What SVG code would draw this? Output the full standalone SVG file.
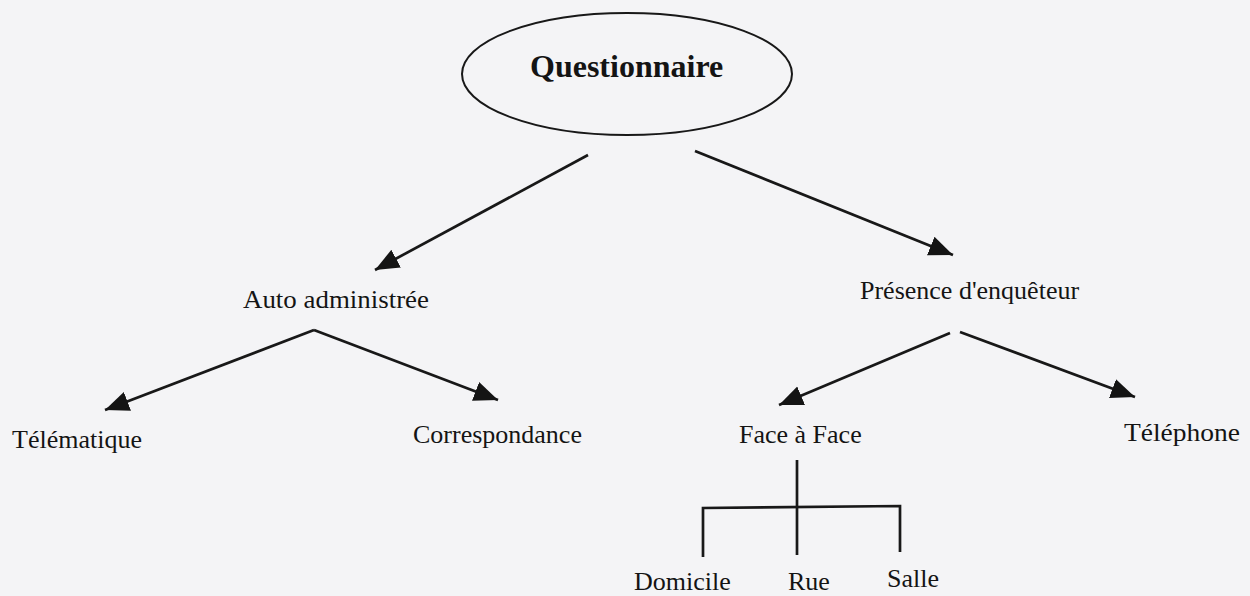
<svg xmlns="http://www.w3.org/2000/svg" width="1250" height="596" viewBox="0 0 1250 596">
<style>
.lbl{font-family:"Liberation Serif","Times New Roman",serif;font-size:26px;fill:#141414}
.ttl{font-family:"Liberation Serif","Times New Roman",serif;font-size:32px;font-weight:bold;fill:#141414}
.ln{stroke:#181818;stroke-width:2.7;fill:none}
</style>
<defs>
<marker id="ah" markerUnits="userSpaceOnUse" markerWidth="26" markerHeight="22" refX="24" refY="10" orient="auto">
<path d="M0,0 L24,10 L0,20 z" fill="#141414"/>
</marker>
</defs>
<rect width="1250" height="596" fill="#f4f4f6"/>
<g id="questionnaire">
<ellipse cx="627" cy="74" rx="165" ry="61" fill="none" stroke="#181818" stroke-width="2"/>
<text class="ttl" x="530" y="77">Questionnaire</text>
</g>
<g id="auto">
<text class="lbl" x="243" y="308" textLength="186" lengthAdjust="spacingAndGlyphs">Auto administrée</text>
</g>
<g id="presence">
<text class="lbl" x="860" y="299">Présence d'enquêteur</text>
</g>
<g id="telematique">
<text class="lbl" x="12" y="448">Télématique</text>
</g>
<g id="correspondance">
<text class="lbl" x="413" y="443">Correspondance</text>
</g>
<g id="face">
<text class="lbl" x="739" y="443">Face à  Face</text>
</g>
<g id="telephone">
<text class="lbl" x="1124" y="441" textLength="116" lengthAdjust="spacingAndGlyphs">Téléphone</text>
</g>
<g id="domicile">
<text class="lbl" x="634" y="590">Domicile</text>
</g>
<g id="rue">
<text class="lbl" x="788" y="590">Rue</text>
</g>
<g id="salle">
<text class="lbl" x="887" y="587">Salle</text>
</g>
<g id="connectors">
<line class="ln" x1="588" y1="155" x2="375" y2="270" marker-end="url(#ah)"/>
<line class="ln" x1="695" y1="151" x2="953" y2="255" marker-end="url(#ah)"/>
<line class="ln" x1="314" y1="330" x2="105" y2="410" marker-end="url(#ah)"/>
<line class="ln" x1="314" y1="330" x2="498" y2="400" marker-end="url(#ah)"/>
<line class="ln" x1="950" y1="333" x2="779" y2="405" marker-end="url(#ah)"/>
<line class="ln" x1="960" y1="332" x2="1135" y2="397" marker-end="url(#ah)"/>
<line class="ln" x1="797" y1="460" x2="797" y2="555"/>
<polyline class="ln" points="703,557 703,508 900,506 900,552"/>
</g>
</svg>
